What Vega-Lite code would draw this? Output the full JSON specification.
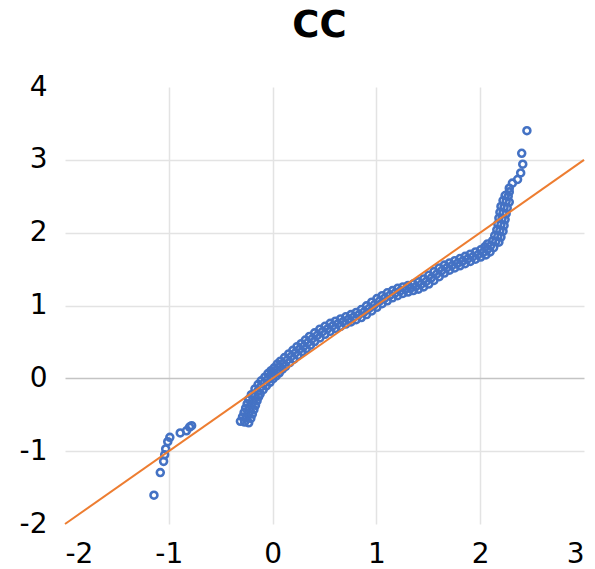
{
  "$schema": "https://vega.github.io/schema/vega-lite/v6.json",
  "width": 519,
  "height": 437,
  "autosize": {"type": "none"},
  "padding": {"left": 65, "top": 87, "right": 11, "bottom": 45},
  "background": "white",
  "title": {"text": "CC", "font": "DejaVu Sans", "fontSize": 37, "fontWeight": "bold", "color": "#000000", "offset": 28, "dx": -5, "anchor": "middle"},
  "config": {
    "view": {"stroke": null},
    "axis": {"domain": false, "ticks": false, "tickSize": 0, "labelFont": "DejaVu Sans", "labelFontSize": 28, "labelColor": "#000000", "title": null, "gridWidth": 1.5, "labelExpr": "'' + datum.value"}
  },
  "datasets": {
    "pts": [
      {"x": -1.143, "y": -1.604}, {"x": -1.082, "y": -1.294}, {"x": -1.05, "y": -1.14}, {"x": -1.04, "y": -1.05}, {"x": -1.03, "y": -0.97}, {"x": -1.01, "y": -0.87}, {"x": -0.99, "y": -0.81}, {"x": -0.89, "y": -0.75}, {"x": -0.83, "y": -0.72}, {"x": -0.8, "y": -0.67}, {"x": -0.78, "y": -0.65},
      {"x": -0.27, "y": -0.6}, {"x": -0.31, "y": -0.59}, {"x": -0.23, "y": -0.61},
      {"x": -0.25, "y": -0.54}, {"x": -0.29, "y": -0.53}, {"x": -0.21, "y": -0.55},
      {"x": -0.235, "y": -0.48}, {"x": -0.275, "y": -0.47}, {"x": -0.195, "y": -0.49},
      {"x": -0.22, "y": -0.42}, {"x": -0.26, "y": -0.41}, {"x": -0.18, "y": -0.43},
      {"x": -0.205, "y": -0.36}, {"x": -0.245, "y": -0.35}, {"x": -0.165, "y": -0.37},
      {"x": -0.19, "y": -0.3}, {"x": -0.23, "y": -0.29}, {"x": -0.15, "y": -0.31},
      {"x": -0.17, "y": -0.24}, {"x": -0.205, "y": -0.225}, {"x": -0.135, "y": -0.255},
      {"x": -0.145, "y": -0.18}, {"x": -0.17, "y": -0.145}, {"x": -0.12, "y": -0.215},
      {"x": -0.115, "y": -0.12}, {"x": -0.14, "y": -0.085}, {"x": -0.09, "y": -0.155},
      {"x": -0.085, "y": -0.07}, {"x": -0.11, "y": -0.035}, {"x": -0.06, "y": -0.105},
      {"x": -0.05, "y": -0.02}, {"x": -0.075, "y": 0.015}, {"x": -0.025, "y": -0.055},
      {"x": -0.02, "y": 0.03}, {"x": -0.045, "y": 0.065}, {"x": 0.005, "y": -0.005},
      {"x": 0.01, "y": 0.07}, {"x": -0.015, "y": 0.105}, {"x": 0.035, "y": 0.035},
      {"x": 0.04, "y": 0.11}, {"x": 0.015, "y": 0.145}, {"x": 0.065, "y": 0.075},
      {"x": 0.07, "y": 0.16}, {"x": 0.045, "y": 0.195}, {"x": 0.095, "y": 0.125},
      {"x": 0.1, "y": 0.2}, {"x": 0.075, "y": 0.235}, {"x": 0.125, "y": 0.165},
      {"x": 0.14, "y": 0.25}, {"x": 0.115, "y": 0.285}, {"x": 0.165, "y": 0.215},
      {"x": 0.18, "y": 0.3}, {"x": 0.155, "y": 0.335}, {"x": 0.205, "y": 0.265},
      {"x": 0.22, "y": 0.35}, {"x": 0.195, "y": 0.385}, {"x": 0.245, "y": 0.315},
      {"x": 0.26, "y": 0.4}, {"x": 0.235, "y": 0.435}, {"x": 0.285, "y": 0.365},
      {"x": 0.3, "y": 0.44}, {"x": 0.275, "y": 0.475}, {"x": 0.325, "y": 0.405},
      {"x": 0.34, "y": 0.49}, {"x": 0.315, "y": 0.525}, {"x": 0.365, "y": 0.455},
      {"x": 0.38, "y": 0.54}, {"x": 0.355, "y": 0.575}, {"x": 0.405, "y": 0.505},
      {"x": 0.43, "y": 0.59}, {"x": 0.405, "y": 0.625}, {"x": 0.455, "y": 0.555},
      {"x": 0.48, "y": 0.64}, {"x": 0.455, "y": 0.675}, {"x": 0.505, "y": 0.605},
      {"x": 0.53, "y": 0.68}, {"x": 0.505, "y": 0.715}, {"x": 0.555, "y": 0.645},
      {"x": 0.58, "y": 0.72}, {"x": 0.555, "y": 0.755}, {"x": 0.605, "y": 0.685},
      {"x": 0.63, "y": 0.75}, {"x": 0.605, "y": 0.785}, {"x": 0.655, "y": 0.715},
      {"x": 0.68, "y": 0.78}, {"x": 0.655, "y": 0.815}, {"x": 0.705, "y": 0.745},
      {"x": 0.73, "y": 0.81}, {"x": 0.705, "y": 0.845}, {"x": 0.755, "y": 0.775},
      {"x": 0.78, "y": 0.84}, {"x": 0.755, "y": 0.875}, {"x": 0.805, "y": 0.805},
      {"x": 0.83, "y": 0.87}, {"x": 0.805, "y": 0.905}, {"x": 0.855, "y": 0.835},
      {"x": 0.88, "y": 0.91}, {"x": 0.855, "y": 0.945}, {"x": 0.905, "y": 0.875},
      {"x": 0.93, "y": 0.96}, {"x": 0.905, "y": 0.995}, {"x": 0.955, "y": 0.925},
      {"x": 0.98, "y": 1.01}, {"x": 0.955, "y": 1.045}, {"x": 1.005, "y": 0.975},
      {"x": 1.03, "y": 1.06}, {"x": 1.005, "y": 1.095}, {"x": 1.055, "y": 1.025},
      {"x": 1.08, "y": 1.1}, {"x": 1.055, "y": 1.135}, {"x": 1.105, "y": 1.065},
      {"x": 1.13, "y": 1.14}, {"x": 1.105, "y": 1.175}, {"x": 1.155, "y": 1.105},
      {"x": 1.18, "y": 1.17}, {"x": 1.155, "y": 1.205}, {"x": 1.205, "y": 1.135},
      {"x": 1.23, "y": 1.2}, {"x": 1.205, "y": 1.235}, {"x": 1.255, "y": 1.165},
      {"x": 1.28, "y": 1.22}, {"x": 1.255, "y": 1.255}, {"x": 1.305, "y": 1.185},
      {"x": 1.33, "y": 1.24}, {"x": 1.305, "y": 1.275}, {"x": 1.355, "y": 1.205},
      {"x": 1.38, "y": 1.26}, {"x": 1.355, "y": 1.295}, {"x": 1.405, "y": 1.225},
      {"x": 1.43, "y": 1.29}, {"x": 1.405, "y": 1.325}, {"x": 1.455, "y": 1.255},
      {"x": 1.48, "y": 1.33}, {"x": 1.455, "y": 1.365}, {"x": 1.505, "y": 1.295},
      {"x": 1.53, "y": 1.38}, {"x": 1.505, "y": 1.415}, {"x": 1.555, "y": 1.345},
      {"x": 1.58, "y": 1.43}, {"x": 1.555, "y": 1.465}, {"x": 1.605, "y": 1.395},
      {"x": 1.63, "y": 1.48}, {"x": 1.605, "y": 1.515}, {"x": 1.655, "y": 1.445},
      {"x": 1.68, "y": 1.52}, {"x": 1.655, "y": 1.555}, {"x": 1.705, "y": 1.485},
      {"x": 1.73, "y": 1.55}, {"x": 1.705, "y": 1.585}, {"x": 1.755, "y": 1.515},
      {"x": 1.78, "y": 1.58}, {"x": 1.755, "y": 1.615}, {"x": 1.805, "y": 1.545},
      {"x": 1.83, "y": 1.61}, {"x": 1.805, "y": 1.645}, {"x": 1.855, "y": 1.575},
      {"x": 1.88, "y": 1.64}, {"x": 1.855, "y": 1.675}, {"x": 1.905, "y": 1.605},
      {"x": 1.93, "y": 1.67}, {"x": 1.905, "y": 1.705}, {"x": 1.955, "y": 1.635},
      {"x": 1.98, "y": 1.7}, {"x": 1.955, "y": 1.735}, {"x": 2.005, "y": 1.665},
      {"x": 2.03, "y": 1.73}, {"x": 2.005, "y": 1.765}, {"x": 2.055, "y": 1.695},
      {"x": 2.07, "y": 1.77}, {"x": 2.045, "y": 1.805}, {"x": 2.095, "y": 1.735},
      {"x": 2.1, "y": 1.82}, {"x": 2.07, "y": 1.845}, {"x": 2.13, "y": 1.795},
      {"x": 2.15, "y": 1.88}, {"x": 2.12, "y": 1.89}, {"x": 2.18, "y": 1.87},
      {"x": 2.17, "y": 1.95}, {"x": 2.14, "y": 1.96}, {"x": 2.2, "y": 1.94},
      {"x": 2.19, "y": 2.03}, {"x": 2.16, "y": 2.04}, {"x": 2.22, "y": 2.02},
      {"x": 2.2, "y": 2.11}, {"x": 2.17, "y": 2.12}, {"x": 2.23, "y": 2.1},
      {"x": 2.21, "y": 2.19}, {"x": 2.18, "y": 2.2}, {"x": 2.24, "y": 2.18},
      {"x": 2.22, "y": 2.27}, {"x": 2.19, "y": 2.28}, {"x": 2.25, "y": 2.26},
      {"x": 2.23, "y": 2.35}, {"x": 2.2, "y": 2.36}, {"x": 2.26, "y": 2.34},
      {"x": 2.25, "y": 2.43}, {"x": 2.22, "y": 2.44}, {"x": 2.28, "y": 2.42},
      {"x": 2.27, "y": 2.5}, {"x": 2.24, "y": 2.51},
      {"x": 2.28, "y": 2.56},
      {"x": 2.28, "y": 2.61}, {"x": 2.31, "y": 2.68}, {"x": 2.36, "y": 2.73}, {"x": 2.39, "y": 2.82}, {"x": 2.41, "y": 2.94}, {"x": 2.4, "y": 3.09}, {"x": 2.45, "y": 3.4}
    ],
    "line": [{"x": -2, "y": -2}, {"x": 3, "y": 3}]
  },
  "layer": [
    {
      "data": {"name": "pts"},
      "mark": {"type": "point", "shape": "circle", "filled": false, "size": 48, "strokeWidth": 2.6, "color": "#4472C4", "opacity": 1},
      "encoding": {
        "x": {"field": "x", "type": "quantitative",
          "scale": {"domain": [-2, 3], "nice": false, "zero": false},
          "axis": {"values": [-2, -1, 0, 1, 2, 3], "labelPadding": 16, "grid": true,
            "gridColor": "#e3e3e3",
            "gridOpacity": {"condition": {"test": "datum.value == -2 || datum.value == 3", "value": 0}, "value": 1}}},
        "y": {"field": "y", "type": "quantitative",
          "scale": {"domain": [-2, 4], "nice": false, "zero": false},
          "axis": {"values": [-2, -1, 0, 1, 2, 3, 4], "labelPadding": 18, "grid": true,
            "gridColor": {"condition": {"test": "datum.value == 0", "value": "#c4c4c4"}, "value": "#e3e3e3"},
            "gridOpacity": {"condition": {"test": "datum.value == -2 || datum.value == 4", "value": 0}, "value": 1}}}
      }
    },
    {
      "data": {"name": "line"},
      "mark": {"type": "line", "color": "#ED7D31", "strokeWidth": 2},
      "encoding": {
        "x": {"field": "x", "type": "quantitative"},
        "y": {"field": "y", "type": "quantitative"}
      }
    }
  ]
}
